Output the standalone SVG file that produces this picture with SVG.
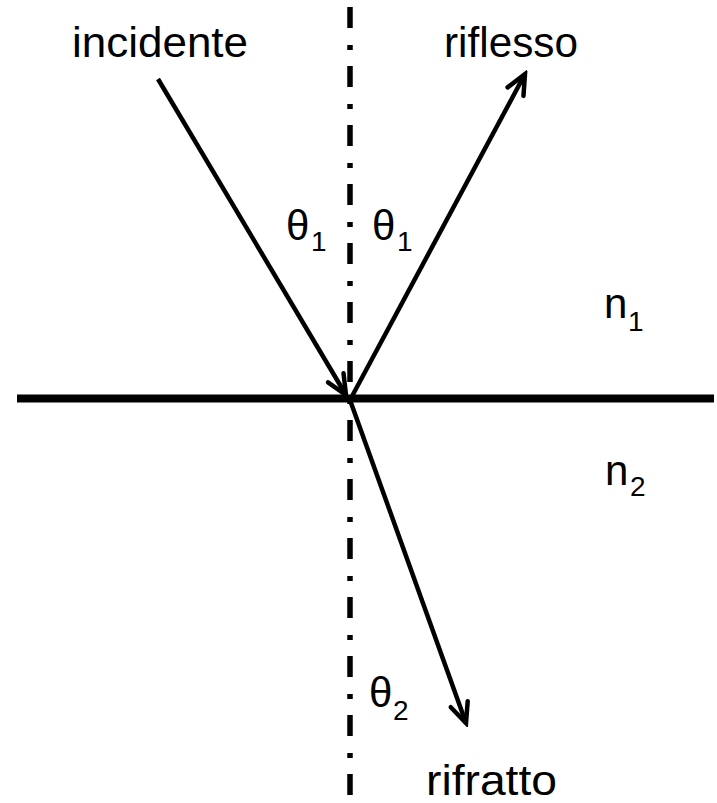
<svg xmlns="http://www.w3.org/2000/svg" width="717" height="803" viewBox="0 0 717 803">
<style>
text{font-family:"Liberation Sans",Arial,sans-serif;fill:#000}
.lbl{font-size:42px}
.sub{font-size:28px}
.ray{stroke:#000;stroke-width:4.5;fill:none;marker-end:url(#arr)}
</style>
<defs>
<marker id="arr" markerUnits="userSpaceOnUse" viewBox="-24 -12 28 24" refX="0" refY="0" markerWidth="28" markerHeight="24" orient="auto">
<path d="M-20,-9 L0,0 L-20,9" fill="none" stroke="#000" stroke-width="4.5" stroke-linecap="round" stroke-linejoin="miter"/>
</marker>
</defs>
<rect width="717" height="803" fill="#fff"/>
<g id="connectors">
<line id="normal" x1="350" y1="7" x2="350" y2="795" stroke="#000" stroke-width="5.5" stroke-dasharray="21 17 5 16"/>
<line id="surface" x1="17" y1="398.5" x2="714" y2="398.5" stroke="#000" stroke-width="8"/>
<line id="incident" class="ray" x1="158" y1="79" x2="346" y2="395"/>
<line id="reflected" class="ray" x1="350" y1="400" x2="525" y2="74"/>
<line id="refracted" class="ray" x1="350" y1="400" x2="466" y2="723"/>
</g>
<g id="label-incidente"><text class="lbl" x="72" y="57" textLength="176" lengthAdjust="spacingAndGlyphs">incidente</text></g>
<g id="label-riflesso"><text class="lbl" x="444" y="57" textLength="134" lengthAdjust="spacingAndGlyphs">riflesso</text></g>
<g id="label-rifratto"><text class="lbl" x="426" y="795" textLength="131" lengthAdjust="spacingAndGlyphs">rifratto</text></g>
<g id="theta1-left"><text class="lbl" x="286" y="240">θ</text><text class="sub" x="311" y="251">1</text></g>
<g id="theta1-right"><text class="lbl" x="372" y="240">θ</text><text class="sub" x="397" y="251">1</text></g>
<g id="theta2"><text class="lbl" x="369" y="707">θ</text><text class="sub" x="393" y="720">2</text></g>
<g id="n1"><text class="lbl" x="604" y="318">n</text><text class="sub" x="628" y="331">1</text></g>
<g id="n2"><text class="lbl" x="605" y="485">n</text><text class="sub" x="630" y="496">2</text></g>
</svg>
